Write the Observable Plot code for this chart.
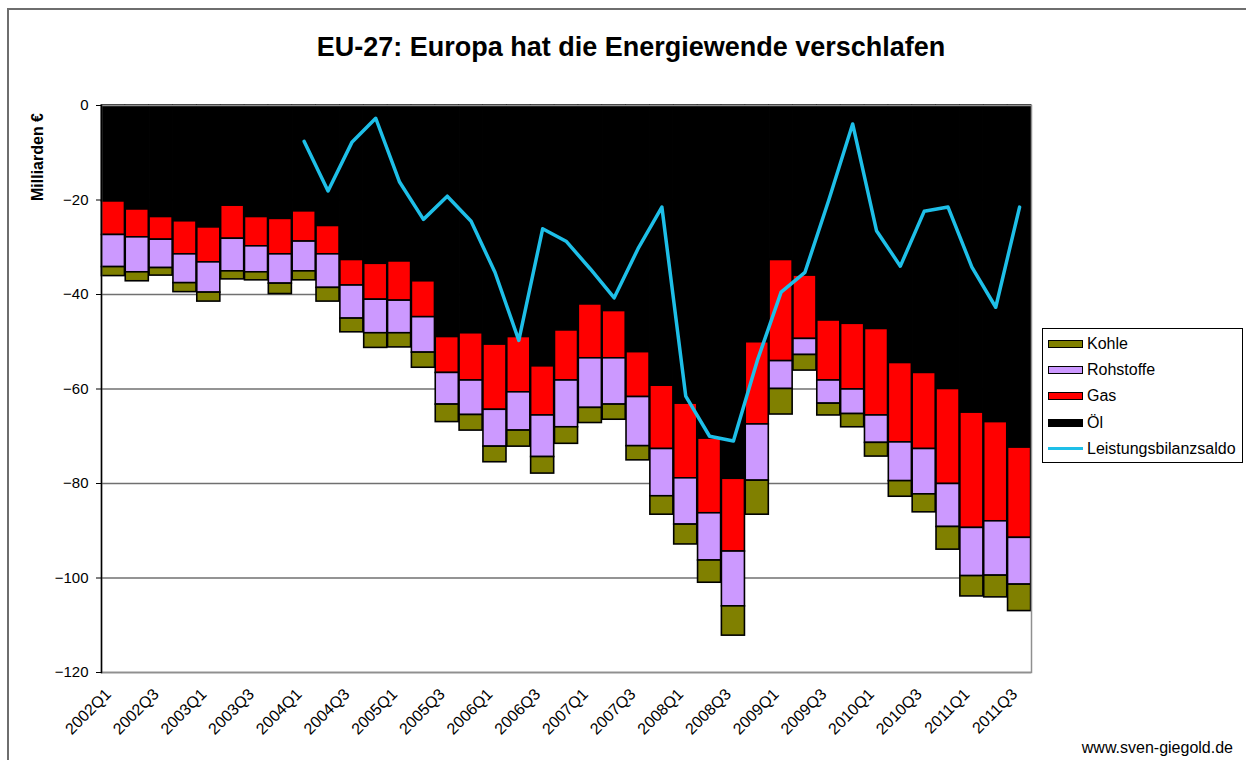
<!DOCTYPE html>
<html><head><meta charset="utf-8">
<script src="https://cdn.jsdelivr.net/npm/d3@7"></script>
<script src="https://cdn.jsdelivr.net/npm/@observablehq/plot@0.6"></script>
<style>
body{margin:0;background:#fff;font-family:"Liberation Sans",Arial,sans-serif;}
#wrap{position:relative;width:1246px;height:760px;overflow:hidden;background:#fff;}
#border{position:absolute;left:7px;top:8px;width:1300px;height:800px;border:2px solid #6e6e6e;}
#title{position:absolute;left:8px;width:1246px;top:32px;line-height:31px;text-align:center;font-weight:bold;font-size:27px;color:#000;}
#ylab{position:absolute;left:38px;top:157px;transform:translate(-50%,-50%) rotate(-90deg);font-weight:bold;font-size:16px;white-space:nowrap;}
#chart{position:absolute;left:0;top:0;}
#legend{position:absolute;left:1042px;top:328px;width:201px;height:135px;border:1px solid #000;background:#fff;box-sizing:border-box;}
.item{position:absolute;left:5px;height:20px;display:flex;align-items:center;font-size:16px;white-space:nowrap;}
.sw{width:33px;height:6px;border:1px solid #000;margin-right:4px;}
.ln{width:35px;height:3px;margin-right:4px;}
#source{position:absolute;right:13px;top:739px;font-size:16px;color:#000;}
</style></head>
<body>
<div id="wrap">
<div id="border"></div>
<div id="title">EU-27: Europa hat die Energiewende verschlafen</div>
<div id="ylab">Milliarden €</div>
<div id="chart"></div>
<div id="legend"></div>
<div id="source">www.sven-giegold.de</div>
</div>
<script>
const quarters = ["2002Q1","2002Q2","2002Q3","2002Q4","2003Q1","2003Q2","2003Q3","2003Q4",
"2004Q1","2004Q2","2004Q3","2004Q4","2005Q1","2005Q2","2005Q3","2005Q4",
"2006Q1","2006Q2","2006Q3","2006Q4","2007Q1","2007Q2","2007Q3","2007Q4",
"2008Q1","2008Q2","2008Q3","2008Q4","2009Q1","2009Q2","2009Q3","2009Q4",
"2010Q1","2010Q2","2010Q3","2010Q4","2011Q1","2011Q2","2011Q3"];

const oel = [-20.3,-22.0,-23.6,-24.5,-25.8,-21.2,-23.6,-24.0,-22.4,-25.5,-32.7,-33.5,-33.0,-37.2,-49.0,-48.2,-50.6,-49.0,-55.2,-47.6,-42.1,-43.5,-52.2,-59.3,-63.1,-70.5,-79.0,-50.1,-32.7,-36.0,-45.5,-46.2,-47.3,-54.5,-56.6,-60.0,-65.0,-67.0,-72.4];
const gas = [-7.1,-5.9,-4.8,-7.0,-7.4,-7.0,-6.2,-7.5,-6.4,-6.0,-5.4,-7.6,-8.3,-7.6,-7.6,-10.0,-13.8,-11.7,-10.4,-10.6,-11.4,-10.0,-9.5,-13.4,-15.8,-15.8,-15.4,-17.4,-21.4,-13.4,-12.7,-13.9,-18.3,-16.8,-16.1,-20.1,-24.4,-21.0,-19.1];
const rohstoffe = [-6.8,-7.4,-6.0,-6.1,-6.4,-6.9,-5.5,-6.2,-6.3,-7.1,-7.0,-7.1,-6.9,-7.5,-6.7,-7.3,-7.8,-8.1,-8.8,-9.9,-10.5,-9.8,-10.4,-10.0,-9.8,-10.0,-11.6,-11.9,-5.9,-3.4,-4.9,-5.2,-5.8,-8.2,-9.6,-9.1,-10.2,-11.5,-9.9];
const kohle = [-1.9,-1.9,-1.6,-1.9,-1.9,-1.7,-1.7,-2.2,-1.9,-2.9,-2.9,-3.1,-3.0,-3.2,-3.7,-3.3,-3.3,-3.4,-3.5,-3.5,-3.2,-3.2,-3.0,-3.9,-4.2,-4.7,-6.2,-7.2,-5.4,-3.3,-2.5,-2.8,-2.9,-3.3,-3.8,-4.8,-4.3,-4.6,-5.6];
const saldo = [null,null,null,null,null,null,null,null,
-7.6,-18.1,-7.8,-2.7,-16.2,-24.1,-19.2,-24.5,-35.3,-49.7,-26.1,-28.8,-34.6,-40.7,-30.3,-21.5,
-61.5,-70.0,-71.0,-54.0,-39.5,-35.3,-20.0,-3.9,-26.5,-34.0,-22.4,-21.5,-34.2,-42.7,-21.5];

const seriesNames = ["Öl","Gas","Rohstoffe","Kohle"];
const seriesColors = ["#000000","#ff0000","#cc99ff","#808000"];
const lineName = "Leistungsbilanzsaldo";
const lineColor = "#1ebfe8";
const yTicks = [0,-20,-40,-60,-80,-100,-120];
const xTickLabels = quarters.filter((q,i)=>i%2===0);

const seriesValues = [oel,gas,rohstoffe,kohle];
const bars = [];
quarters.forEach((q,i)=>seriesValues.forEach((arr,k)=>bars.push({q, series: seriesNames[k], value: arr[i]})));
const lineData = quarters.map((q,i)=>({q, v: saldo[i]})).filter(d=>d.v!=null);

const chart = Plot.plot({
  width:1246, height:760,
  marginTop:105, marginLeft:101, marginRight:215, marginBottom:88,
  style:{fontFamily:"Liberation Sans, Arial, sans-serif", fontSize:"15px", background:"transparent", color:"#000"},
  x:{type:"band", domain:quarters, padding:0},
  y:{domain:[-120,0]},
  color:{domain:seriesNames, range:seriesColors},
  marks:[
    Plot.ruleY(yTicks.slice(1), {stroke:"#707070", strokeWidth:1.5}),
    Plot.barY(bars, Plot.stackY({x:"q", y:"value", fill:"series", order:seriesNames, stroke:"#000", strokeWidth:1.6, insetLeft:0.4, insetRight:0.4})),
    Plot.line(lineData, {x:"q", y:"v", stroke:lineColor, strokeWidth:3.5}),
    Plot.frame({stroke:"#909090", strokeWidth:1.5}),
    Plot.frame({anchor:"left", stroke:"#000", strokeWidth:1.5}),
    Plot.axisY({ticks:yTicks, tickSize:5, tickPadding:8, label:null, fontSize:15}),
    Plot.axisX({ticks:xTickLabels, tickRotate:-45, tickSize:0, tickPadding:19, label:null, fontSize:16, dx:-5})
  ]
});
document.getElementById("chart").appendChild(chart);

// legend
const legend = document.getElementById("legend");
const legendItems = seriesNames.map((n,i)=>({name:n, color:seriesColors[i], type:"bar"})).reverse();
legendItems.push({name:lineName, color:lineColor, type:"line"});
legendItems.forEach((it,i)=>{
  const d = document.createElement("div");
  d.className = "item";
  d.style.top = (5 + i*26.2) + "px";
  const s = document.createElement("div");
  s.className = it.type==="bar" ? "sw" : "ln";
  s.style.background = it.color;
  d.appendChild(s);
  const t = document.createElement("span");
  t.textContent = it.name;
  d.appendChild(t);
  legend.appendChild(d);
});
</script>
</body></html>
